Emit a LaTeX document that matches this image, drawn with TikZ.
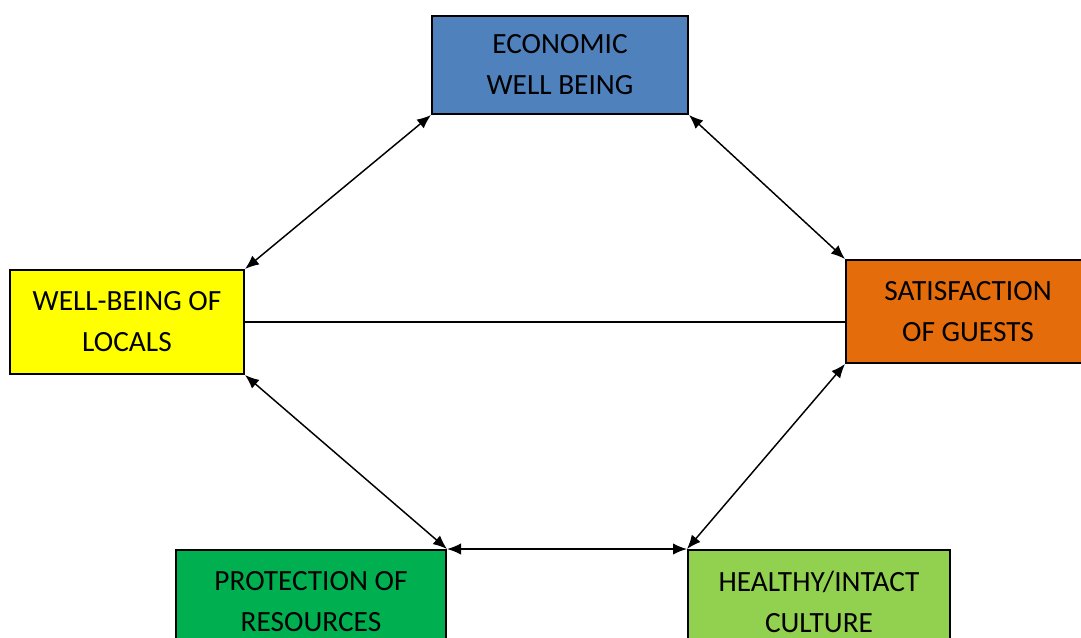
\documentclass[tikz,border=0pt]{standalone}
\usepackage{fontspec}
\setmainfont{Carlito}
\usetikzlibrary{arrows.meta}
\definecolor{cblue}{HTML}{4F81BD}
\definecolor{cyellow}{HTML}{FFFF00}
\definecolor{corange}{HTML}{E46C0A}
\definecolor{cgreen}{HTML}{00B050}
\definecolor{clgreen}{HTML}{92D050}
\tikzset{
  box/.style={draw=black, line width=1.5pt, inner sep=0pt, align=center,
    font=\fontsize{22}{30.75}\selectfont, text=black},
  link/.style={line width=1.1pt, {Latex[length=10.5pt,width=8.5pt]}-{Latex[length=10.5pt,width=8.5pt]}},
  plain/.style={line width=1.1pt}
}
\begin{document}
\begin{tikzpicture}[x=0.75pt,y=-0.75pt]
\useasboundingbox (0,0) rectangle (1081,637);
\clip (0,0) rectangle (1081,637);
\node[box, fill=cblue, minimum width=192pt, minimum height=73.5pt] (econ) at (560,65) {ECONOMIC\\WELL BEING};
\node[box, fill=cyellow, minimum width=175.5pt, minimum height=78pt] (loc) at (127,322) {WELL-BEING OF\\LOCALS};
\node[box, fill=corange, minimum width=183pt, minimum height=77.25pt] (sat) at (968,311.5) {SATISFACTION\\OF GUESTS};
\node[box, fill=cgreen, minimum width=202.5pt, minimum height=78pt] (prot) at (311,602) {PROTECTION OF\\RESOURCES};
\node[box, fill=clgreen, minimum width=196.5pt, minimum height=78pt] (heal) at (819,602) {HEALTHY/INTACT\\CULTURE};
\draw[link] (econ.south west) -- (loc.north east);
\draw[link] (econ.south east) -- (sat.north west);
\draw[plain] (loc.east) -- (sat.west |- loc.east);
\draw[link] (loc.south east) -- (prot.north east);
\draw[link] (sat.south west) -- (heal.north west);
\draw[link] (prot.north east) -- (heal.north west);
\end{tikzpicture}
\end{document}
